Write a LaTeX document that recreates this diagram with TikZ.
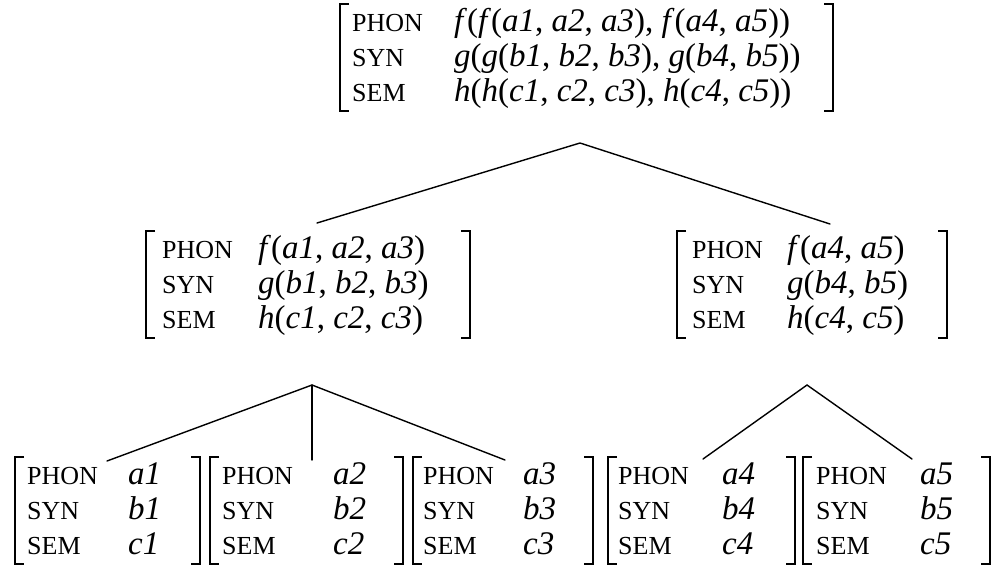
\documentclass[tikz,border=0pt]{standalone}
\usepackage{fontspec}
\setmainfont{Liberation Serif}
\usetikzlibrary{calc}
\tikzset{
  feat/.style={anchor=base west, inner sep=0pt, font=\fontsize{26}{26}\selectfont},
  val/.style={anchor=base west, inner sep=0pt, font=\fontsize{33}{33}\selectfont},
  brk/.style={line width=1.7pt, line cap=butt, line join=miter},
  edge/.style={line width=1.4pt, line cap=round},
  avmbox/.style={inner sep=0pt, outer sep=0pt, anchor=north west, minimum height=107pt},
}
% name, xleft, width, ytop, feat offset, val offset, v1, v2, v3
\newcommand{\avmnode}[9]{%
  \node[avmbox, minimum width=#3pt] (#1) at (#2,-#4) {};
  \draw[brk] ($(#1.north west)+(9,0)$) -- (#1.north west) -- (#1.south west) -- ++(9,0);
  \draw[brk] ($(#1.north east)+(-9,0)$) -- (#1.north east) -- (#1.south east) -- ++(-9,0);
  \node[feat] (#1-pf) at ($(#1.north west)+(#5,-27)$) {PHON};
  \node[feat] (#1-sf) at ($(#1.north west)+(#5,-62)$) {SYN};
  \node[feat] (#1-ef) at ($(#1.north west)+(#5,-97)$) {SEM};
  \node[val] (#1-pv) at ($(#1.north west)+(#6,-27)$) {#7};
  \node[val] (#1-sv) at ($(#1.north west)+(#6,-62)$) {#8};
  \node[val] (#1-ev) at ($(#1.north west)+(#6,-97)$) {#9};
}
\begin{document}
\begin{tikzpicture}[x=1pt,y=1pt]
\fill[white] (0,0) rectangle (995,-566);
\useasboundingbox (0,0) rectangle (995,-566);

\avmnode{top}{340}{493}{4}{12}{114}
  {\textit{f}(\textit{f}(\textit{a1}, \textit{a2}, \textit{a3}), \textit{f}(\textit{a4}, \textit{a5}))}
  {\textit{g}(\textit{g}(\textit{b1}, \textit{b2}, \textit{b3}), \textit{g}(\textit{b4}, \textit{b5}))}
  {\textit{h}(\textit{h}(\textit{c1}, \textit{c2}, \textit{c3}), \textit{h}(\textit{c4}, \textit{c5}))}

\avmnode{ml}{146}{324}{231}{16}{112}
  {\textit{f}(\textit{a1}, \textit{a2}, \textit{a3})}
  {\textit{g}(\textit{b1}, \textit{b2}, \textit{b3})}
  {\textit{h}(\textit{c1}, \textit{c2}, \textit{c3})}

\avmnode{mr}{677}{270}{231}{15}{110}
  {\textit{f}(\textit{a4}, \textit{a5})}
  {\textit{g}(\textit{b4}, \textit{b5})}
  {\textit{h}(\textit{c4}, \textit{c5})}

\avmnode{l1}{15}{185}{457}{12}{113}{\textit{a1}}{\textit{b1}}{\textit{c1}}
\avmnode{l2}{210}{193}{457}{12}{123}{\textit{a2}}{\textit{b2}}{\textit{c2}}
\avmnode{l3}{413}{180}{457}{10}{110}{\textit{a3}}{\textit{b3}}{\textit{c3}}
\avmnode{l4}{608}{187}{457}{10}{114}{\textit{a4}}{\textit{b4}}{\textit{c4}}
\avmnode{l5}{803}{187}{457}{13}{117}{\textit{a5}}{\textit{b5}}{\textit{c5}}

% branching points and connector ends
\coordinate (top-apex) at (580,-143);
\coordinate (ml-apex) at (312,-385);
\coordinate (mr-apex) at (807,-385);
\coordinate (ml-in) at ($(ml.north west)+(171,8)$);
\coordinate (mr-in) at ($(mr.north west)+(153,7)$);
\coordinate (l1-in) at ($(l1.north west)+(92,-4)$);
\coordinate (l2-in) at ($(l2.north west)+(102,-3)$);
\coordinate (l3-in) at ($(l3.north west)+(92,-3)$);
\coordinate (l4-in) at ($(l4.north west)+(95,-2)$);
\coordinate (l5-in) at ($(l5.north west)+(109,-2)$);

\draw[edge] (ml-in) -- (top-apex) -- (mr-in);
\draw[edge] (l1-in) -- (ml-apex) -- (l3-in);
\draw[edge] (ml-apex) -- (l2-in);
\draw[edge] (l4-in) -- (mr-apex) -- (l5-in);
\end{tikzpicture}
\end{document}
